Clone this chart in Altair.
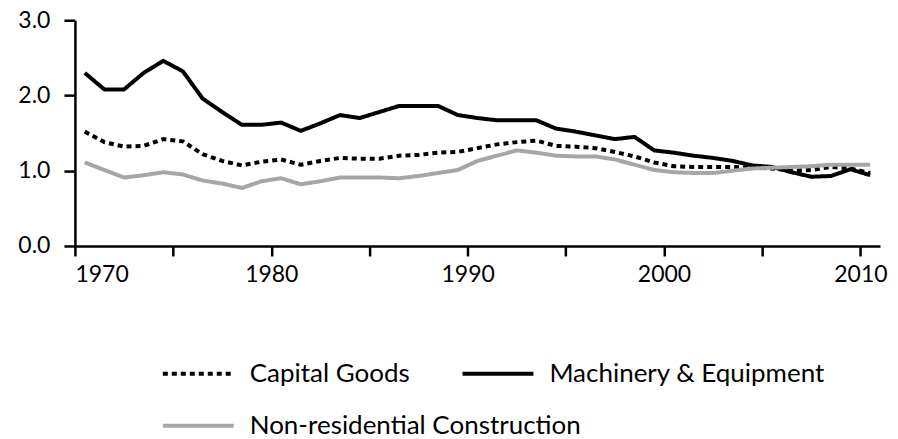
import altair as alt
import pandas as pd

years = list(range(1970, 2011))

capital_goods = [1.52, 1.38, 1.32, 1.33, 1.42, 1.39, 1.22, 1.13, 1.07, 1.12,
                 1.15, 1.08, 1.13, 1.17, 1.16, 1.16, 1.20, 1.21, 1.24, 1.25,
                 1.30, 1.35, 1.38, 1.40, 1.33, 1.32, 1.30, 1.25, 1.19, 1.11,
                 1.06, 1.05, 1.05, 1.05, 1.04, 1.03, 1.00, 1.01, 1.05, 1.03, 0.97]

machinery = [2.30, 2.08, 2.08, 2.30, 2.46, 2.32, 1.96, 1.78, 1.61, 1.61,
             1.64, 1.53, 1.63, 1.74, 1.70, 1.78, 1.86, 1.86, 1.86, 1.74,
             1.70, 1.67, 1.67, 1.67, 1.56, 1.52, 1.47, 1.42, 1.45, 1.27,
             1.24, 1.20, 1.17, 1.13, 1.07, 1.05, 0.98, 0.92, 0.93, 1.02, 0.94]

construction = [1.11, 1.01, 0.91, 0.94, 0.98, 0.95, 0.87, 0.83, 0.77, 0.86,
                0.90, 0.82, 0.86, 0.91, 0.91, 0.91, 0.90, 0.93, 0.97, 1.01,
                1.13, 1.20, 1.27, 1.24, 1.20, 1.19, 1.19, 1.15, 1.08, 1.01,
                0.98, 0.97, 0.97, 1.00, 1.03, 1.04, 1.05, 1.06, 1.08, 1.08, 1.08]

series_names = ["Capital Goods", "Machinery & Equipment", "Non-residential Construction"]
series_colors = ["#000000", "#000000", "#A6A6A6"]
series_dashes = [[5, 4], [1, 0], [1, 0]]

x_ticks = [1970, 1975, 1980, 1985, 1990, 1995, 2000, 2005, 2010]
y_ticks = [0, 1, 2, 3]

rows = []
for name, vals in zip(series_names, [capital_goods, machinery, construction]):
    for y, v in zip(years, vals):
        rows.append({"pos": y + 0.5, "year": y, "value": v, "series": name})
df = pd.DataFrame(rows)

FONT = "Lato"

lines = alt.Chart(df).mark_line(strokeWidth=4, strokeCap="butt", strokeJoin="round").encode(
    x=alt.X("pos:Q", scale=alt.Scale(domain=[1970, 2011], nice=False, zero=False),
            axis=alt.Axis(title=None, values=x_ticks, format="d",
                          labelExpr="datum.value % 10 == 0 ? datum.label : ''",
                          tickSize=10, labelPadding=8, grid=False)),
    y=alt.Y("value:Q", scale=alt.Scale(domain=[0, 3], nice=False),
            axis=alt.Axis(title=None, values=y_ticks, format=".1f",
                          tickSize=11, labelPadding=14, grid=False)),
    color=alt.Color("series:N", scale=alt.Scale(domain=series_names, range=series_colors),
                    legend=None),
    strokeDash=alt.StrokeDash("series:N", scale=alt.Scale(domain=series_names, range=series_dashes),
                              legend=None),
    detail="series:N",
)

# manual legend layout (pixel positions relative to the plot area)
legend_layout = [(88, 354), (388, 354), (88, 406)]
legend_layers = []
for name, color, dash, (lx, ly) in zip(series_names, series_colors, series_dashes, legend_layout):
    ldf = pd.DataFrame({"series": [name]})
    sym = alt.Chart(ldf).mark_rule(strokeWidth=4, strokeCap="butt", color=color, strokeDash=dash).encode(
        x=alt.value(lx), x2=alt.value(lx + 71), y=alt.value(ly)
    )
    txt = alt.Chart(ldf).mark_text(align="left", baseline="middle", font=FONT, fontSize=26,
                                   color="black").encode(
        x=alt.value(lx + 87), y=alt.value(ly), text="series:N"
    )
    legend_layers += [sym, txt]

chart = alt.layer(lines, *legend_layers).properties(
    width=806, height=226,
    autosize=alt.AutoSizeParams(type="none"),
    padding={"left": 67, "top": 12, "right": 10, "bottom": 193},
).configure(background="white").configure_view(stroke=None).configure_axis(
    domainColor="black", domainWidth=2.5, tickColor="black", tickWidth=2.5,
    labelColor="black", labelFont=FONT, labelFontSize=23,
)

chart.save("out.html", embed_options={"renderer": "svg", "actions": False})
